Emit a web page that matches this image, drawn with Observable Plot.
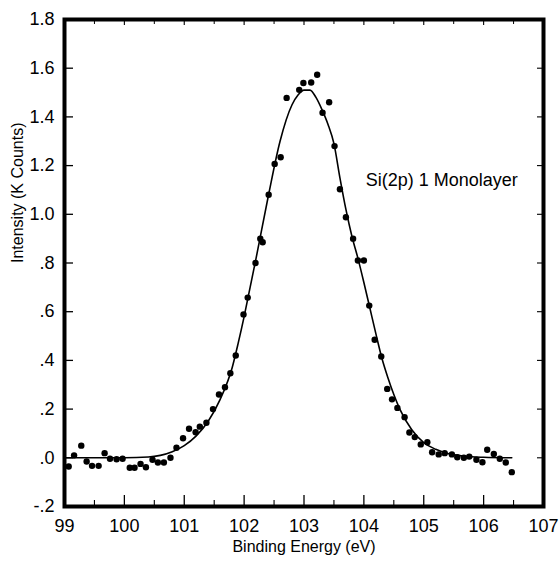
<!DOCTYPE html>
<html><head><meta charset="utf-8">
<script src="https://cdn.jsdelivr.net/npm/d3@7"></script>
<script src="https://cdn.jsdelivr.net/npm/@observablehq/plot@0.6"></script>
<style>html,body{margin:0;padding:0;background:#fff}</style>
</head><body><div id="chart"></div>
<script>
// measured points: binding energy (eV) and intensity (K counts)
const energy = [99.07, 99.16, 99.28, 99.37, 99.46, 99.57, 99.67, 99.76, 99.87, 99.97,
  100.09, 100.17, 100.27, 100.36, 100.47, 100.56, 100.66, 100.77, 100.87, 100.98,
  101.08, 101.19, 101.26, 101.37, 101.48, 101.58, 101.68, 101.77, 101.86, 101.99,
  102.06, 102.19, 102.27, 102.31, 102.41, 102.51, 102.61, 102.71, 102.92, 102.99,
  103.12, 103.22, 103.31, 103.42, 103.51, 103.60, 103.70, 103.82, 103.90, 104.00,
  104.09, 104.18, 104.29, 104.39, 104.47, 104.56, 104.68, 104.76, 104.85, 104.95,
  105.06, 105.14, 105.25, 105.35, 105.47, 105.56, 105.67, 105.76, 105.88, 105.98,
  106.06, 106.17, 106.27, 106.37, 106.47];
const counts = [-0.036, 0.010, 0.050, -0.015, -0.033, -0.033, 0.019, -0.004, -0.006, -0.004,
  -0.041, -0.041, -0.025, -0.039, -0.008, -0.019, -0.019, 0.000, 0.041, 0.080,
  0.119, 0.105, 0.128, 0.144, 0.200, 0.260, 0.290, 0.347, 0.420, 0.589,
  0.658, 0.800, 0.900, 0.885, 1.080, 1.207, 1.234, 1.478, 1.511, 1.539,
  1.541, 1.573, 1.417, 1.460, 1.280, 1.103, 0.988, 0.900, 0.810, 0.810,
  0.625, 0.485, 0.416, 0.283, 0.240, 0.205, 0.167, 0.104, 0.085, 0.055,
  0.064, 0.023, 0.014, 0.019, 0.014, 0.002, 0.000, 0.005, -0.008, -0.018,
  0.033, 0.016, -0.004, -0.019, -0.059];
// fitted curve
const fitEnergy = [99.0, 100.0, 100.4, 100.6, 100.8, 101.0, 101.2, 101.4, 101.6, 101.8,
  101.9, 102.0, 102.1, 102.2, 102.4, 102.6, 102.8, 102.9, 103.0, 103.1,
  103.2, 103.3, 103.4, 103.5, 103.6, 103.7, 103.8, 103.9, 104.0, 104.1,
  104.2, 104.3, 104.4, 104.5, 104.6, 104.8, 105.0, 105.2, 105.4, 105.6,
  105.8, 106.0, 106.47];
const fitCounts = [0, 0, 0.003, 0.010, 0.025, 0.050, 0.090, 0.150, 0.240, 0.370,
  0.470, 0.580, 0.700, 0.820, 1.070, 1.300, 1.450, 1.490, 1.510, 1.510,
  1.480, 1.430, 1.370, 1.290, 1.150, 1.020, 0.910, 0.820, 0.720, 0.615,
  0.510, 0.410, 0.330, 0.260, 0.200, 0.115, 0.062, 0.035, 0.018, 0.009,
  0.004, 0.002, 0];
const xTicks = [99, 100, 101, 102, 103, 104, 105, 106, 107];
const xMinorTicks = [99.5, 100.5, 101.5, 102.5, 103.5, 104.5, 105.5, 106.5];
const yTicks = [-0.2, 0, 0.2, 0.4, 0.6, 0.8, 1.0, 1.2, 1.4, 1.6, 1.8];
const yTickLabels = ["-.2", ".0", ".2", ".4", ".6", ".8", "1.0", "1.2", "1.4", "1.6", "1.8"];
const annotationText = ["Si(2p) 1 Monolayer"];
const annotationX = [104.03];
const annotationY = [1.14];
const xTitle = "Binding Energy (eV)";
const yTitle = "Intensity (K Counts)";

const W = 560, H = 565, mL = 64, mR = 17, mT = 19, mB = 59;
const pw = W - mL - mR, ph = H - mT - mB;

const points = energy.map((e, i) => ({e, c: counts[i]}));
const fit = fitEnergy.map((e, i) => ({e, c: fitCounts[i]}));
const notes = annotationText.map((t, i) => ({t, x: annotationX[i], y: annotationY[i]}));

const chart = Plot.plot({
  width: W, height: H,
  marginLeft: mL, marginRight: mR, marginTop: mT, marginBottom: mB,
  style: {fontFamily: "'Liberation Sans', Arial, sans-serif", fontSize: "18px", color: "#000", background: "#fff"},
  x: {domain: [99, 107]},
  y: {domain: [-0.2, 1.8]},
  marks: [
    // inward tick marks
    Plot.ruleX(xTicks, {x: d => d, insetTop: ph - 11, stroke: "#000", strokeWidth: 1.3}),
    Plot.ruleX(xMinorTicks, {x: d => d, insetTop: ph - 6, stroke: "#000", strokeWidth: 1.1}),
    Plot.ruleX(xTicks, {x: d => d, insetBottom: ph - 6, stroke: "#000", strokeWidth: 1.1}),
    Plot.ruleX(xMinorTicks, {x: d => d, insetBottom: ph - 5, stroke: "#000", strokeWidth: 1}),
    Plot.ruleY(yTicks, {y: d => d, insetRight: pw - 9, stroke: "#000", strokeWidth: 1.3}),
    Plot.ruleY(yTicks, {y: d => d, insetLeft: pw - 6, stroke: "#000", strokeWidth: 1.1}),
    Plot.axisX({ticks: xTicks, tickSize: 0, tickPadding: 13, label: null, tickFormat: d => String(d)}),
    Plot.axisY({ticks: yTicks, tickSize: 0, tickPadding: 10, label: null,
      tickFormat: d => yTickLabels[yTicks.indexOf(d)]}),
    Plot.line(fit, {x: "e", y: "c", curve: "monotone-x", stroke: "#000", strokeWidth: 1.6}),
    Plot.dot(points, {x: "e", y: "c", r: 3.2, fill: "#000", stroke: "none"}),
    Plot.text(notes, {x: "x", y: "y", text: "t", textAnchor: "start", fontSize: 18}),
    Plot.text([xTitle], {text: d => d, frameAnchor: "bottom", dy: 45, fontSize: 16}),
    Plot.text([yTitle], {text: d => d, frameAnchor: "left", dx: -47, rotate: -90, fontSize: 16}),
    Plot.frame({stroke: "#000", strokeWidth: 4})
  ]
});
document.getElementById("chart").appendChild(chart);
</script>
</body></html>
